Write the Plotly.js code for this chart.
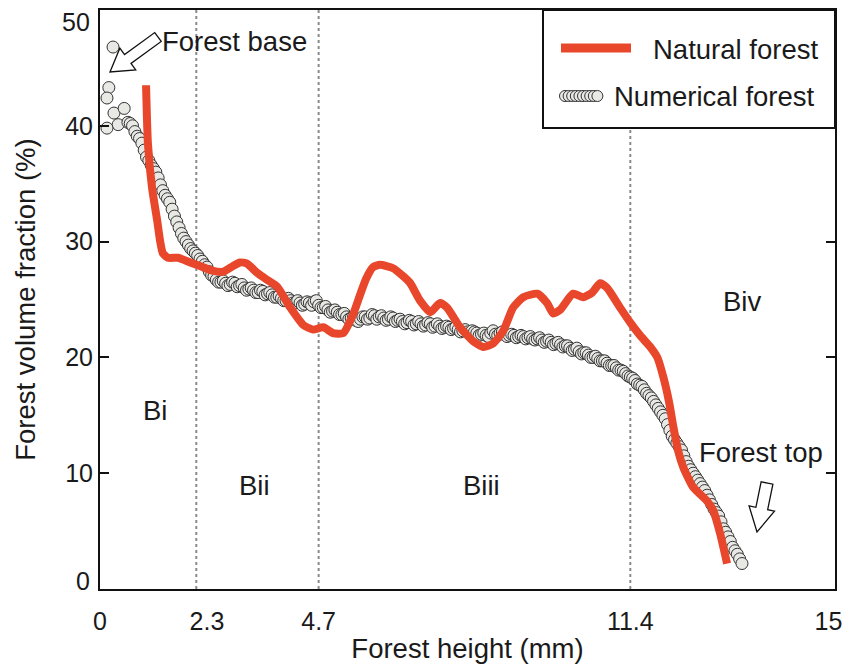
<!DOCTYPE html>
<html>
<head>
<meta charset="utf-8">
<script src="https://cdn.plot.ly/plotly-3.0.1.min.js"></script>
<style>html,body{margin:0;padding:0;background:#fff;}#chart{width:854px;height:671px;}</style>
</head>
<body>
<div id="chart"></div>
<script>
// Numerical forest (circles) - main readings
const numX = [0.28,0.19,0.15,0.30,0.52,0.39,0.15,
  0.60,0.70,0.80,0.90,1.00,1.10,1.20,1.30,1.40,1.50,1.60,1.70,1.80,1.90,
  2.00,2.10,2.20,2.30,2.40,2.50,2.60,2.70,2.80,2.90,3.00,3.10,3.20,3.30,3.40,3.50,3.60,3.70,3.80,3.90,
  4.00,4.10,4.20,4.30,4.40,4.50,4.60,4.70,4.80,4.90,5.00,5.10,5.20,5.30,5.40,5.50,5.60,5.70,5.80,5.90,
  6.00,6.10,6.20,6.30,6.40,6.50,6.60,6.70,6.80,6.90,7.00,7.10,7.20,7.30,7.40,7.50,7.60,7.70,7.80,7.90,
  8.00,8.10,8.20,8.30,8.40,8.50,8.60,8.70,8.80,8.90,9.00,9.10,9.20,9.30,9.40,9.50,9.60,9.70,9.80,9.90,
  10.00,10.10,10.20,10.30,10.40,10.50,10.60,10.70,10.80,10.90,11.00,11.10,11.20,11.30,11.40,11.50,11.60,11.70,11.80,11.90,
  12.00,12.10,12.20,12.30,12.40,12.50,12.60,12.70,12.80,12.90,13.00,13.10,13.20,13.30,13.40,13.50,13.60,13.70,13.80];
const numY = [46.8,43.3,42.4,41.1,41.5,40.1,39.8,
  40.3,40.0,39.1,38.5,37.3,36.6,36.0,34.9,34.0,33.4,32.2,31.2,30.3,29.7,
  29.2,28.8,28.3,27.8,27.1,26.7,26.5,26.4,26.3,26.4,26.2,26.0,25.9,25.8,25.6,25.7,25.5,25.4,25.2,25.1,
  24.9,24.9,24.7,24.7,24.6,24.7,24.8,24.5,24.3,24.1,24.0,23.9,23.7,23.5,23.4,23.2,23.3,23.5,23.4,23.6,
  23.5,23.4,23.3,23.4,23.2,23.1,23.0,23.1,22.9,22.9,22.8,22.9,22.7,22.7,22.6,22.6,22.5,22.4,22.3,22.2,
  22.3,22.1,22.0,21.9,22.1,22.0,22.1,22.0,21.9,21.9,21.8,21.8,21.7,21.6,21.6,21.5,21.4,21.3,21.2,21.1,
  21.0,20.8,20.7,20.5,20.4,20.2,20.0,19.9,19.7,19.5,19.3,19.1,18.9,18.6,18.3,18.0,17.6,17.2,16.7,16.2,
  15.6,15.0,14.2,13.2,12.6,12.0,11.0,10.3,9.7,9.1,8.5,7.7,6.9,6.3,5.2,4.5,3.6,3.0,2.2];
// Numerical forest - in-between circles (dense, jittered band)
const numX2 = [0.65,0.75,0.85,0.95,1.05,1.15,1.25,1.35,1.45,1.55,1.65,1.75,1.85,1.95,2.05,2.15,2.25,
  2.35,2.45,2.55,2.65,2.75,2.85,2.95,3.05,3.15,3.25,3.35,3.45,3.55,3.65,3.75,3.85,3.95,
  4.05,4.15,4.25,4.35,4.45,4.55,4.65,4.75,4.85,4.95,5.05,5.15,5.25,5.35,5.45,5.55,5.65,5.75,5.85,5.95,
  6.05,6.15,6.25,6.35,6.45,6.55,6.65,6.75,6.85,6.95,7.05,7.15,7.25,7.35,7.45,7.55,7.65,7.75,7.85,7.95,
  8.05,8.15,8.25,8.35,8.45,8.55,8.65,8.75,8.85,8.95,9.05,9.15,9.25,9.35,9.45,9.55,9.65,9.75,9.85,9.95,
  10.05,10.15,10.25,10.35,10.45,10.55,10.65,10.75,10.85,10.95,11.05,11.15,11.25,11.35,11.45,11.55,11.65,11.75,11.85,11.95,
  12.05,12.15,12.25,12.35,12.45,12.55,12.65,12.75,12.85,12.95,13.05,13.15,13.25,13.35,13.45,13.55,13.65,13.75];
const numY2 = [40.2,39.5,38.9,37.9,37.0,36.3,35.5,34.4,33.7,32.8,31.7,30.7,30.0,29.4,29.0,28.5,28.0,
  27.4,27.0,26.5,26.6,26.2,26.5,26.1,26.3,25.8,26.0,25.6,25.8,25.4,25.6,25.2,25.3,24.9,
  25.1,24.7,24.9,24.5,24.8,24.5,24.9,24.3,24.4,23.9,24.1,23.7,23.8,23.3,23.5,23.1,23.5,23.3,23.7,23.3,
  23.6,23.2,23.5,23.1,23.3,22.9,23.2,22.8,23.1,22.7,23.0,22.6,22.9,22.5,22.7,22.4,22.6,22.2,22.4,22.1,
  22.2,21.9,22.1,21.8,22.3,21.9,22.2,21.8,22.0,21.7,21.9,21.6,21.8,21.5,21.7,21.3,21.5,21.1,21.3,20.9,
  21.0,20.6,20.8,20.3,20.4,20.0,20.1,19.7,19.7,19.3,19.3,18.9,18.8,18.4,18.2,17.7,17.5,16.9,16.5,15.9,
  15.3,14.7,13.7,12.9,12.3,11.5,10.6,10.0,9.4,8.8,8.1,7.3,6.6,5.8,4.9,4.1,3.3,2.6];

// Natural forest (red line)
const natX = [0.99,1.03,1.12,1.23,1.29,1.35,1.46,1.68,1.94,2.15,2.41,2.65,2.86,3.01,3.16,3.38,3.59,3.81,4.09,4.37,
  4.58,4.80,5.01,5.23,5.44,5.59,5.72,5.87,6.02,6.30,6.52,6.67,6.88,7.10,7.31,7.46,7.74,8.02,8.24,8.45,
  8.67,8.88,9.10,9.40,9.61,9.74,9.89,10.17,10.39,10.58,10.75,10.90,11.18,11.40,11.61,11.83,11.98,12.11,12.23,12.33,
  12.43,12.54,12.75,13.05,13.18,13.33,13.48];
const natY = [43.5,38.5,34.6,31.8,30.1,29.0,28.6,28.6,28.2,27.9,27.5,27.4,27.9,28.2,28.1,27.3,26.7,26.1,24.3,22.8,
  22.4,22.6,22.1,22.1,23.7,25.4,26.8,27.8,28.0,27.7,27.0,26.4,24.9,23.9,24.7,24.3,22.6,21.4,20.9,21.2,
  22.3,24.3,25.2,25.5,24.7,23.8,24.1,25.5,25.2,25.6,26.4,26.0,24.3,23.0,21.9,20.9,20.0,18.3,16.2,13.9,
  11.9,10.5,8.8,7.6,6.8,4.8,2.2];

// Axis ticks
const xTickVals = [0, 2.3, 4.7, 11.4, 15.66];
const xTickText = ['0', '2.3', '4.7', '11.4', '15'];
const yTickVals = [0, 10, 20, 30, 40, 50];
const yTickText = ['', '10', '20', '30', '40', ''];   // 0 and 50 are drawn slightly inset, as in the figure
const yEndLabels = ['0', '50'];
// Region boundaries (dotted lines) and labels
const boundaries = [2.07, 4.7, 11.4];
const regionText = ['Bi', 'Bii', 'Biii', 'Biv'];
const regionX = [1.18, 3.33, 8.2, 13.8];
const regionY = [15.4, 8.95, 8.95, 24.8];

const FONT = '"Liberation Sans", Arial, sans-serif';
const TXT = '#1a1a1a';
const TS = 27.5;
const L = 100, R = 19, T = 10, B = 82, W = 854, H = 671;
const PW = W - L - R, PH = H - T - B;
const px2x = p => (p - L) / PW;
const px2y = p => (H - B - p) / PH;

function hollowArrow(tip, tail, headL, headW, shaftW) {
  const dx = tip[0] - tail[0], dy = tip[1] - tail[1];
  const len = Math.hypot(dx, dy);
  const ux = dx / len, uy = dy / len, nx = -uy, ny = ux;
  const P = (a, s) => [tip[0] - ux * a + nx * s, tip[1] - uy * a + ny * s];
  const pts = [tip, P(headL, headW / 2), P(headL, shaftW / 2), P(len, shaftW / 2),
    P(len, -shaftW / 2), P(headL, -shaftW / 2), P(headL, -headW / 2)];
  return 'M' + pts.map(p => px2x(p[0]).toFixed(4) + ',' + px2y(p[1]).toFixed(4)).join(' L') + ' Z';
}

// combine the circle readings, drawn left to right
const numPts = numX.map((x, i) => [x, numY[i]]).concat(numX2.map((x, i) => [x, numY2[i]]));
const firstN = 7;
const head = numPts.slice(0, firstN);
const rest = numPts.slice(firstN).sort((a, b) => a[0] - b[0]);
const allNum = head.concat(rest);

const shapes = [];
boundaries.forEach(b => shapes.push({type: 'line', xref: 'x', yref: 'paper', x0: b, x1: b, y0: 0, y1: 1,
  line: {color: '#8a8a8a', width: 2, dash: 'dot'}, layer: 'below'}));
// legend box
shapes.push({type: 'rect', xref: 'paper', yref: 'paper', x0: px2x(543), x1: 1, y0: px2y(128), y1: 1,
  line: {color: '#111', width: 2}, fillcolor: '#fff', layer: 'above'});
shapes.push({type: 'line', xref: 'paper', yref: 'paper', x0: px2x(561), x1: px2x(631), y0: px2y(48), y1: px2y(48),
  line: {color: '#e8472b', width: 9}});
for (let i = 0; i < 10; i++) {
  const cx = 565 + i * 3.6, cy = 96, r = 5.5;
  shapes.push({type: 'circle', xref: 'paper', yref: 'paper', x0: px2x(cx - r), x1: px2x(cx + r),
    y0: px2y(cy + r), y1: px2y(cy - r), line: {color: '#333', width: 1}, fillcolor: '#e8e8e5'});
}
// hollow arrows
shapes.push({type: 'path', xref: 'paper', yref: 'paper', path: hollowArrow([110, 72], [158, 37], 22, 27, 11),
  line: {color: '#111', width: 1.3}, fillcolor: '#fff'});
shapes.push({type: 'path', xref: 'paper', yref: 'paper', path: hollowArrow([757, 532], [767, 483], 24, 26, 12),
  line: {color: '#111', width: 1.3}, fillcolor: '#fff'});

const annotations = [];
regionText.forEach((t, i) => annotations.push({x: regionX[i], y: regionY[i], xref: 'x', yref: 'y', text: t,
  showarrow: false, font: {family: FONT, size: TS, color: TXT}}));
annotations.push({xref: 'paper', yref: 'paper', x: px2x(160), y: px2y(41), xanchor: 'left', yanchor: 'middle',
  text: 'Forest base', showarrow: false, font: {family: FONT, size: TS, color: TXT}});
annotations.push({xref: 'paper', yref: 'paper', x: px2x(697), y: px2y(452), xanchor: 'left', yanchor: 'middle',
  text: 'Forest top', showarrow: false, font: {family: FONT, size: TS, color: TXT}});
annotations.push({xref: 'paper', yref: 'paper', x: px2x(651), y: px2y(49), xanchor: 'left', yanchor: 'middle',
  text: 'Natural forest', showarrow: false, font: {family: FONT, size: TS, color: TXT}});
annotations.push({xref: 'paper', yref: 'paper', x: px2x(612), y: px2y(96), xanchor: 'left', yanchor: 'middle',
  text: 'Numerical forest', showarrow: false, font: {family: FONT, size: TS, color: TXT}});
// end labels of the y axis (inset like the original)
annotations.push({xref: 'paper', yref: 'paper', x: px2x(92), y: px2y(581), xanchor: 'right', yanchor: 'middle',
  text: yEndLabels[0], showarrow: false, font: {family: FONT, size: 25, color: TXT}});
annotations.push({xref: 'paper', yref: 'paper', x: px2x(92), y: px2y(22), xanchor: 'right', yanchor: 'middle',
  text: yEndLabels[1], showarrow: false, font: {family: FONT, size: 25, color: TXT}});

const traces = [
  {x: allNum.map(p => p[0]), y: allNum.map(p => p[1]), type: 'scatter', mode: 'markers', name: 'Numerical forest',
    cliponaxis: false,
    marker: {size: 12, color: '#e8e8e5', line: {color: '#333', width: 1}}},
  {x: natX, y: natY, type: 'scatter', mode: 'lines', name: 'Natural forest',
    line: {color: '#e8472b', width: 8, shape: 'spline', smoothing: 0.55}}
];

const layout = {
  width: W, height: H,
  margin: {l: L, r: R, t: T, b: B},
  paper_bgcolor: '#fff', plot_bgcolor: '#fff',
  showlegend: false,
  font: {family: FONT, color: TXT},
  xaxis: {range: [0, 15.8], tickvals: xTickVals, ticktext: xTickText, ticks: '',
    showline: true, linecolor: '#111', linewidth: 2, mirror: true, showgrid: false, zeroline: false,
    tickfont: {family: FONT, size: 25, color: TXT}, ticklabelstandoff: 9,
    title: {text: 'Forest height (mm)', font: {family: FONT, size: TS, color: TXT}, standoff: 5}},
  yaxis: {range: [0, 50], tickvals: yTickVals, ticktext: yTickText, ticks: 'inside', ticklen: 9, tickwidth: 2,
    tickcolor: '#111',
    showline: true, linecolor: '#111', linewidth: 2, mirror: 'ticks', showgrid: false, zeroline: false,
    tickfont: {family: FONT, size: 25, color: TXT},
    title: {text: 'Forest volume fraction (%)', font: {family: FONT, size: TS, color: TXT}, standoff: 22}},
  shapes: shapes,
  annotations: annotations
};

Plotly.newPlot('chart', traces, layout, {displayModeBar: false, staticPlot: true});
</script>
</body>
</html>
